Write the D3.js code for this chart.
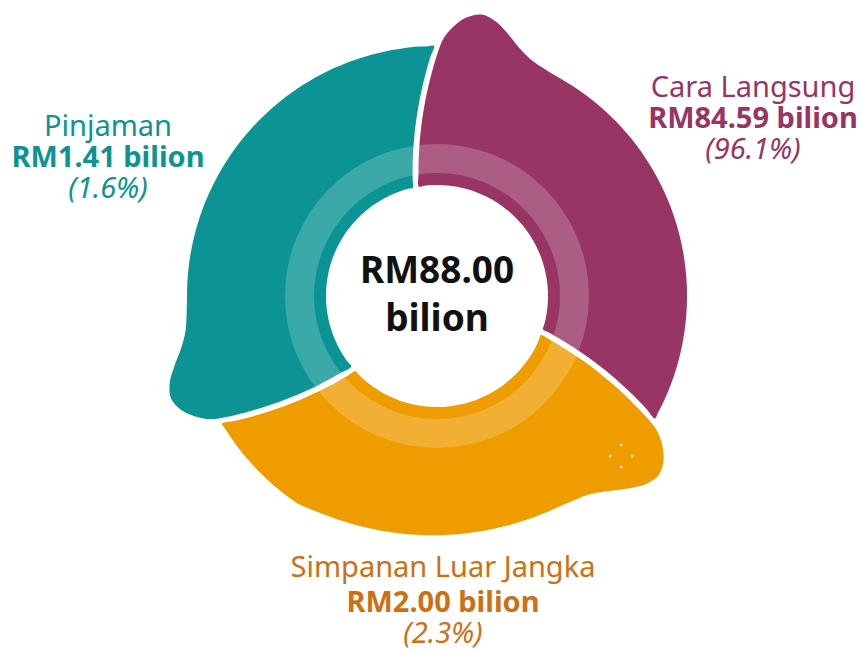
<!DOCTYPE html>
<html>
<head>
<meta charset="utf-8">
<script src="https://cdn.jsdelivr.net/npm/d3@7"></script>
<style>
    body { margin: 0; background: #fff; }
    svg { display: block; font-family: "Noto Sans", "Open Sans", sans-serif; }
</style>
</head>
<body>
<div id="chart"></div>
<script>

// Data (RM bilion).
const categories  = ["Cara Langsung", "Simpanan Luar Jangka", "Pinjaman"];
const amounts     = [84.59, 2.00, 1.41];
const shares      = [96.1, 2.3, 1.6];
const total       = 88.00;
const unit        = "bilion";

const colors      = ["#983565", "#ee9c00", "#0c9494"];
const labelColors = ["#983565", "#cc7015", "#0c9494"];

// Layout.
const width = 860, height = 651;
const cx = 437, cy = 296;
const rInner = 111, rOuter = 250;
const bandInner = 123, bandOuter = 152;
const halfGap = 3;     // half the white gap between slices (px)
const twist = 11;      // how far (deg) a slice border turns from outer to inner edge
// Tail bulge at the start of every slice: [deg after slice start, radius]
const bulge = [[1.5, 258], [3.5, 270], [6, 280], [9, 285], [12, 281],
               [15, 272], [18.5, 261], [22, 254], [26, 251]];
const sag = [0, 11, 0];  // the orange slice is a bit flatter at the bottom
const labelPos = [{x: 753, y: 97}, {x: 443, y: 577}, {x: 108, y: 136}];
const lineGap = [31, 35, 31];

const deg = Math.PI / 180;

let svg = d3.select("#chart")
    .append("svg")
        .attr("width", width)
        .attr("height", height)
    .append("g")
        .attr("transform", "translate(" + cx + "," + cy + ")");

// The design gives every item the same slot, whatever its share.
let pie = d3.pie().value(() => 1).sort(null);
let slices = pie(categories);

// Angle (deg) of a slice border at radius r, side +1 = start, -1 = end.
function borderAngle(r, side) {
    return -twist * (rOuter - r) / (rOuter - rInner) + side * halfGap / r / deg;
}

// How much the outer edge is pulled in at a given angle of slice i.
function dip(a, i) {
    let t = (a - 18) / 75;
    return (t > 0 && t < 1) ? sag[i] * Math.pow(Math.sin(Math.PI * t), 0.7) : 0;
}

function outline(s, i) {
    let a0 = s.startAngle / deg, a1 = s.endAngle / deg;
    let pts = [];

    // start border, inner -> outer
    for (let r = rInner; r < rOuter - 4; r += 12) {
        pts.push([a0 + borderAngle(r, 1), r]);
    }
    // tail
    bulge.forEach(b => pts.push([a0 + b[0], b[1] - dip(b[0], i)]));
    // outer edge
    for (let a = 30; a <= 118; a += 2) {
        pts.push([a0 + a, rOuter - dip(a, i)]);
    }
    // end border, outer -> inner
    for (let r = rOuter; r > rInner; r -= 12) {
        pts.push([a1 + borderAngle(r, -1), r]);
    }
    let e = a1 + borderAngle(rInner, -1), b = a0 + borderAngle(rInner, 1);
    pts.push([e, rInner]);
    // inner edge, back to the start
    for (let a = e - 2; a > b + 1; a -= 2) {
        pts.push([a, rInner]);
    }
    return pts;
}

let radialLine = d3.lineRadial()
    .angle(d => d[0] * deg)
    .radius(d => d[1])
    .curve(d3.curveCatmullRomClosed.alpha(0.5));

svg.selectAll("path.slice")
        .data(slices)
        .enter()
    .append("path")
        .attr("class", "slice")
        .attr("fill", (d, i) => colors[i])
        .attr("d", (d, i) => radialLine(outline(d, i)));

// Light band across the ring.
svg.append("path")
    .attr("class", "band")
    .attr("fill", "#fff")
    .attr("fill-opacity", 0.2)
    .attr("d", d3.arc()
        .innerRadius(bandInner)
        .outerRadius(bandOuter)
        .startAngle(0)
        .endAngle(2 * Math.PI)());

// Small sparkle on the orange tail.
let sp = d3.pointRadial(slices[1].startAngle + 11 * deg, 244);
svg.append("g")
        .attr("class", "sparkle")
        .attr("transform", "translate(" + sp[0] + "," + sp[1] + ")")
        .selectAll("circle")
        .data([[0, -11], [-11, 0], [11, 0], [0, 11]])
        .enter()
    .append("circle")
        .attr("cx", d => d[0])
        .attr("cy", d => d[1])
        .attr("r", 1.3)
        .attr("fill", "#fff")
        .attr("fill-opacity", 0.85);

// Total in the middle.
let mid = svg.append("text")
    .attr("text-anchor", "middle")
    .attr("font-weight", 700)
    .attr("font-size", 37)
    .attr("fill", "#111");
mid.append("tspan").attr("x", 0).attr("y", -13).text("RM" + total.toFixed(2));
mid.append("tspan").attr("x", 0).attr("y", 35).text(unit);

// Labels.
let labels = d3.select("svg").selectAll("text.label")
        .data(categories)
        .enter()
    .append("text")
        .attr("class", "label")
        .attr("text-anchor", "middle")
        .attr("font-size", 29)
        .attr("fill", (d, i) => labelColors[i]);

labels.append("tspan")
    .attr("x", (d, i) => labelPos[i].x)
    .attr("y", (d, i) => labelPos[i].y)
    .text(d => d);
labels.append("tspan")
    .attr("x", (d, i) => labelPos[i].x)
    .attr("y", (d, i) => labelPos[i].y + lineGap[i])
    .attr("font-weight", 700)
    .text((d, i) => "RM" + amounts[i].toFixed(2) + " " + unit);
labels.append("tspan")
    .attr("x", (d, i) => labelPos[i].x)
    .attr("y", (d, i) => labelPos[i].y + lineGap[i] + 31)
    .attr("font-style", "italic")
    .text((d, i) => "(" + shares[i].toFixed(1) + "%)");

</script>
</body>
</html>
